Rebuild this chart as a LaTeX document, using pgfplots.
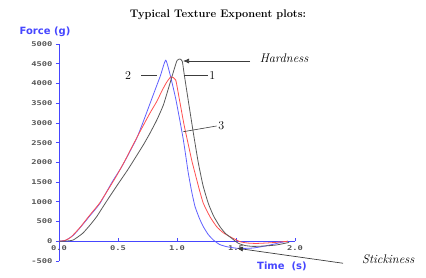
\documentclass[border=0pt]{standalone}
\usepackage{pgfplots}
\pgfplotsset{compat=1.18}
\usetikzlibrary{arrows.meta}
\usepackage{fontspec}
\newfontfamily\tickfont[FakeStretch=1.35]{DejaVu Sans Mono}
\newfontfamily\labfont{DejaVu Sans}
\definecolor{axblue}{RGB}{70,70,255}
\definecolor{cblue}{RGB}{95,95,255}
\definecolor{cred}{RGB}{255,80,80}
\definecolor{cgray}{RGB}{90,90,90}
\definecolor{tickgray}{RGB}{85,85,85}
\definecolor{anno}{RGB}{60,60,60}
\begin{document}
\begin{tikzpicture}
\useasboundingbox (0,0) rectangle (426pt,278pt);
\begin{axis}[
  at={(59pt,17pt)}, anchor=south west,
  scale only axis, width=236pt, height=217pt,
  xmin=0, xmax=2, ymin=-500, ymax=5000,
  axis x line=middle, axis y line=left,
  x axis line style={-, axblue, line width=0.8pt},
  y axis line style={-, axblue, line width=0.8pt},
  xtick={0,0.5,1,1.5,2}, ytick={-500,0,500,...,5000},
  xtick align=inside, ytick align=outside,
  major tick length=3pt,
  tick style={axblue, line width=0.8pt},
  hide obscured x ticks=false, hide obscured y ticks=false,
  xticklabel style={font=\tickfont\bfseries\fontsize{6.5}{7}\selectfont, text=tickgray, yshift=-1pt,
    /pgf/number format/fixed, /pgf/number format/fixed zerofill, /pgf/number format/precision=1},
  yticklabel style={font=\tickfont\bfseries\fontsize{6.5}{7}\selectfont, text=tickgray,
    /pgf/number format/fixed, /pgf/number format/set thousands separator={}},
  /pgf/number format/assume math mode=true,
  clip=false,
]
% curve 2 (blue)
\addplot[cblue, line width=0.8pt, smooth, tension=0.3] coordinates {
(0,0)(0.06,30)(0.12,150)(0.178,340)(0.26,640)(0.347,960)(0.45,1500)(0.53,1880)(0.60,2270)(0.66,2620)(0.71,3000)(0.76,3400)(0.814,3834)(0.86,4200)(0.905,4590)(0.95,4120)(0.99,3600)(1.025,3050)(1.054,2567)(1.075,2150)(1.096,1723)(1.125,1250)(1.153,877)(1.19,580)(1.223,370)(1.265,170)(1.308,33)(1.36,-80)(1.421,-137)(1.506,-177)(1.58,-180)(1.647,-170)(1.73,-130)(1.816,-76)(1.88,-30)(1.94,0)
};
% red
\addplot[cred, line width=0.8pt, smooth, tension=0.3] coordinates {
(0,0)(0.05,20)(0.1,100)(0.178,350)(0.26,660)(0.347,980)(0.48,1620)(0.56,2050)(0.62,2400)(0.686,2777)(0.771,3250)(0.83,3550)(0.87,3800)(0.91,4020)(0.949,4170)(0.989,4088)(1.02,3600)(1.06,2950)(1.096,2450)(1.125,2050)(1.153,1723)(1.19,1300)(1.223,963)(1.28,620)(1.336,370)(1.39,220)(1.449,117)(1.534,-10)(1.6,-45)(1.67,-55)(1.75,-45)(1.83,-30)(1.9,-10)(1.94,0)
};
% curve 1 (gray)
\addplot[cgray, line width=0.8pt, smooth, tension=0.3] coordinates {
(0,0)(0.06,5)(0.121,33)(0.2,200)(0.26,400)(0.319,623)(0.4,1000)(0.5,1450)(0.58,1800)(0.658,2170)(0.72,2470)(0.771,2740)(0.83,3080)(0.884,3450)(0.93,3900)(0.97,4300)(1.0,4580)(1.025,4620)(1.045,4560)(1.062,4214)(1.1,3480)(1.14,2720)(1.18,2000)(1.22,1420)(1.265,963)(1.31,640)(1.364,370)(1.41,200)(1.463,76)(1.519,-50)(1.58,-110)(1.647,-130)(1.74,-120)(1.84,-95)(1.94,-35)(1.95,-20)
};
% annotations
\draw[anno, line width=0.7pt, -{Latex[length=6pt,width=5pt]}] (axis cs:1.619,4569) -- (axis cs:1.051,4569);
\node[anchor=west, inner sep=0pt, font=\itshape\fontsize{12.5}{14}\selectfont] at (axis cs:1.70,4640) {Hardness};
\draw[anno, line width=0.6pt] (axis cs:0.695,4214) -- (axis cs:0.83,4214);
\node[inner sep=0pt, font=\fontsize{12}{13}\selectfont] at (axis cs:0.585,4214) {2};
\draw[anno, line width=0.6pt] (axis cs:1.059,4214) -- (axis cs:1.263,4214);
\node[inner sep=0pt, font=\fontsize{12}{13}\selectfont] at (axis cs:1.30,4214) {1};
\draw[anno, line width=0.6pt] (axis cs:1.053,2777) -- (axis cs:1.336,2922);
\node[inner sep=0pt, font=\fontsize{12}{13}\selectfont] at (axis cs:1.375,2922) {3};
\draw[anno, line width=0.7pt, -{Latex[length=6pt,width=5pt]}] (axis cs:2.407,-557) -- (axis cs:1.508,-177);
\node[anchor=west, inner sep=0pt, font=\itshape\fontsize{12.5}{14}\selectfont] at (axis cs:2.568,-449) {Stickiness};
\end{axis}
\node[font=\bfseries\fontsize{11}{13}\selectfont] at (218pt,263pt) {Typical Texture Exponent plots:};
\node[font=\labfont\bfseries\fontsize{10}{12}\selectfont, text=axblue] at (45pt,246pt) {Force (g)};
\node[font=\labfont\bfseries\fontsize{10}{12}\selectfont, text=axblue] at (282pt,12pt) {Time\ \ (s)};
\end{tikzpicture}
\end{document}
